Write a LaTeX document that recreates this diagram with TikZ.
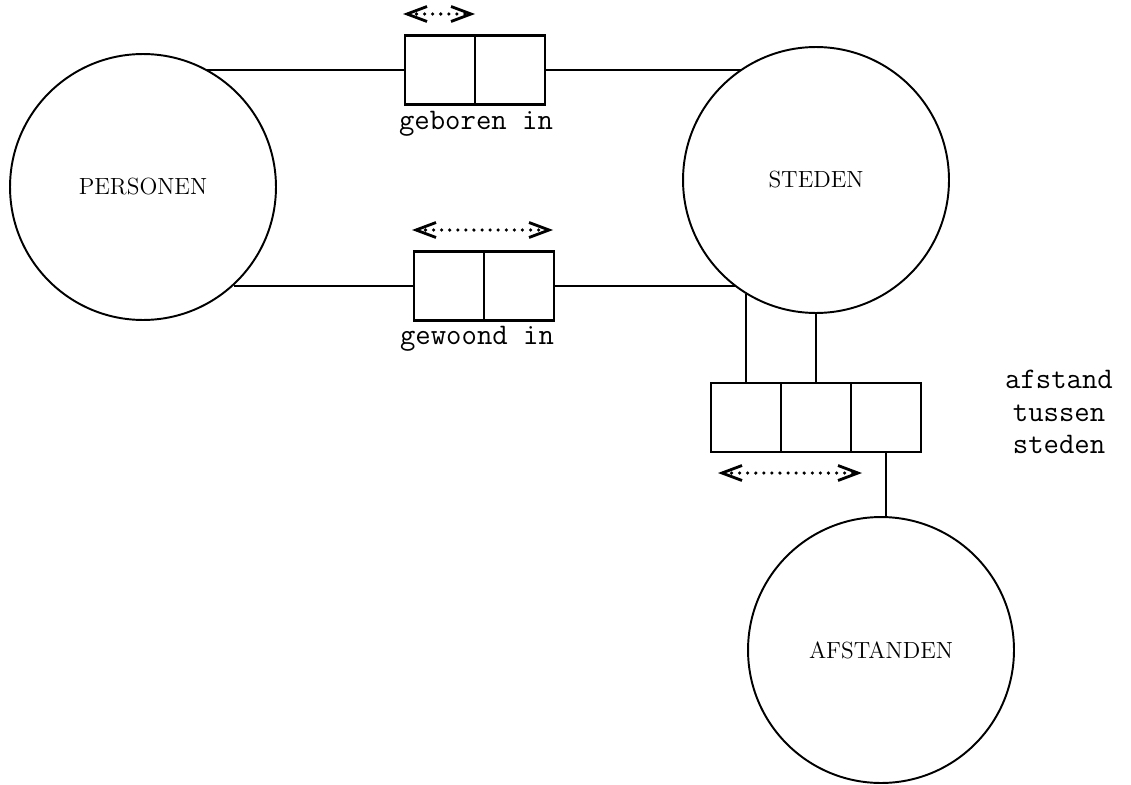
\documentclass[tikz,border=0pt]{standalone}
\usepackage{fontspec}
\usepackage{tikz}
\usetikzlibrary{arrows.meta}
\usetikzlibrary{positioning}
\tikzset{
    entity/.style={
        draw,
        circle,
        line width=1.1pt,
        minimum size=5.32cm,
        inner sep=0pt,
        font=\fontsize{13.3}{15}\selectfont
    },
    cell/.style={
        draw,
        rectangle,
        line width=1.5pt,
        minimum width=1.4cm,
        minimum height=1.38cm,
        inner sep=0pt,
        outer sep=0pt
    },
    rolename/.style={
        font=\fontsize{17}{19}\selectfont\ttfamily,
        inner sep=0pt
    },
    readdir/.style={
        {Straight Barb[length=4mm,width=3mm,line width=1.6pt]}-{Straight Barb[length=4mm,width=3mm,line width=1.6pt]},
        line width=2pt,
        dash pattern=on 0pt off 4.6pt,
        line cap=round
    }
}

\begin{document}
\begin{tikzpicture}[x=0.02cm, y=-0.02cm, node distance=0pt]
    \useasboundingbox (0,0) rectangle (1131,784);

    % Entities
    \node[entity] (personen) at (143,187) {PERSONEN};
    \node[entity] (steden) at (816,180) {STEDEN};
    \node[entity] (afstanden) at (881,650) {AFSTANDEN};

    % Fact types
    \node[cell] (gb1) at (440,70) {};
    \node[cell, right=0pt of gb1] (gb2) {};
    \node[cell] (gw1) at (449,286) {};
    \node[cell, right=0pt of gw1] (gw2) {};
    \node[cell] (af1) at (746,417.5) {};
    \node[cell, right=0pt of af1] (af2) {};
    \node[cell, right=0pt of af2] (af3) {};

    % Names
    \node[rolename] (gbname) at (476,124) {geboren in};
    \node[rolename] (gwname) at (477,339) {gewoond in};
    \node[rolename, align=center] (afname) at (1059,412)
        {afstand\\[-0.4pt]tussen\\[-0.4pt]steden};

    % Roles
    \draw[line width=0.9pt] (gb1.west) -- (gb1.west -| personen.62);
    \draw[line width=0.9pt] (gb2.east) -- (gb2.east -| steden.124);
    \draw[line width=0.9pt] (gw1.west) -- (gw1.west -| personen.-47);
    \draw[line width=0.9pt] (gw2.east) -- (gw2.east -| steden.-127);
    \draw[line width=0.9pt] (af1.north) -- (af1.north |- steden.-122);
    \draw[line width=0.9pt] (af2.north) -- (af2.north |- steden.south);
    \draw[line width=0.9pt] (af3.south) -- (af3.south |- afstanden.north);

    % Reading directions
    \coordinate (gbL) at (403,14);
    \coordinate (gbR) at (475,14);
    \coordinate (gwL) at (412,230);
    \coordinate (gwR) at (553,230);
    \coordinate (afL) at (718,473);
    \coordinate (afR) at (862,473);
    \draw[readdir] (gbL) -- (gbR);
    \draw[readdir] (gwL) -- (gwR);
    \draw[readdir] (afL) -- (afR);
\end{tikzpicture}
\end{document}
